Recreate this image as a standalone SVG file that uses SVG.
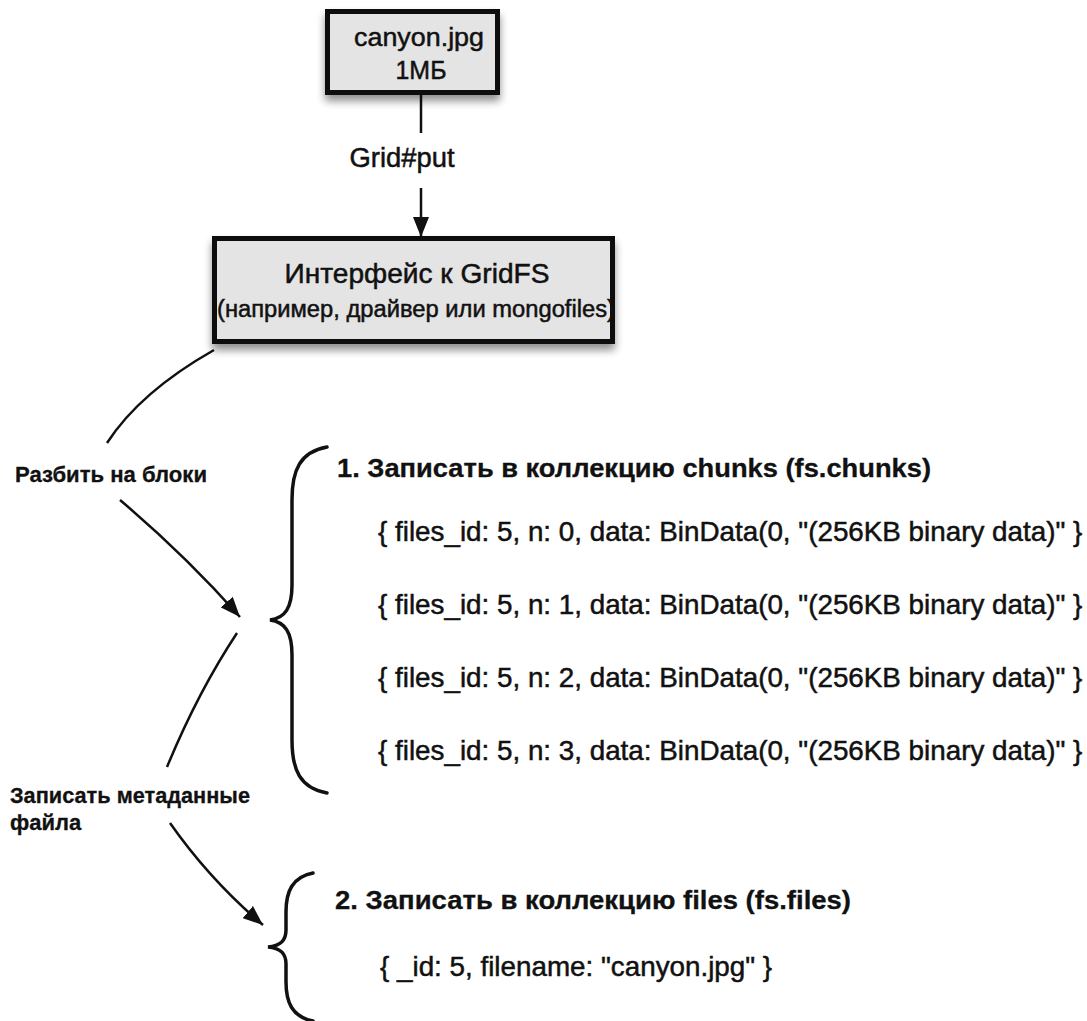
<svg xmlns="http://www.w3.org/2000/svg" width="1087" height="1021" viewBox="0 0 1087 1021">
  <style>
    text { font-family: "Liberation Sans", Arial, sans-serif; fill: #111; stroke: #111; stroke-width: 0.5; }
    .box { fill: #e4e4e4; stroke: #111; stroke-width: 5; }
    .line { fill: none; stroke: #111; stroke-width: 2.5; }
    .brace { fill: none; stroke: #111; stroke-width: 3.5; stroke-linecap: round; }
    .bold { font-weight: bold; stroke-width: 0.3; }
    .code { font-size: 27.8px; }
    .lbl { font-size: 22px; font-weight: bold; stroke-width: 0.3; }
  </style>
  <defs>
    <filter id="shadow" x="-10%" y="-20%" width="120%" height="150%">
      <feGaussianBlur in="SourceAlpha" stdDeviation="4"/>
      <feOffset dx="0" dy="6" result="b"/>
      <feComponentTransfer><feFuncA type="linear" slope="0.45"/></feComponentTransfer>
      <feMerge><feMergeNode/><feMergeNode in="SourceGraphic"/></feMerge>
    </filter>
    <marker id="arrow" viewBox="0 0 20 16" refX="20" refY="8" markerWidth="20" markerHeight="16" markerUnits="userSpaceOnUse" orient="auto">
      <path d="M0,0 L20,8 L0,16 z" fill="#111"/>
    </marker>
  </defs>

  <g id="connectors">
    <line class="line" x1="421" y1="95" x2="421" y2="133"/>
    <line class="line" x1="421" y1="188" x2="421" y2="237" marker-end="url(#arrow)"/>
    <path class="line" d="M214,350 Q140,392 107,443"/>
    <path class="line" d="M120,500 Q185,555 240,617" marker-end="url(#arrow)"/>
    <path class="line" d="M237,633 Q198,692 167,767"/>
    <path class="line" d="M170,823 Q210,880 263,925" marker-end="url(#arrow)"/>
  </g>

  <g id="node-canyon">
    <rect class="box" x="327.5" y="11.5" width="170" height="81" filter="url(#shadow)"/>
    <text x="419" y="46" font-size="26.5" text-anchor="middle" textLength="130" lengthAdjust="spacingAndGlyphs">canyon.jpg</text>
    <text x="421" y="79" font-size="26.5" text-anchor="middle" textLength="51" lengthAdjust="spacingAndGlyphs">1МБ</text>
  </g>

  <g id="label-gridput">
    <text x="402" y="167" font-size="27" text-anchor="middle" textLength="105" lengthAdjust="spacingAndGlyphs">Grid#put</text>
  </g>

  <g id="node-gridfs">
    <rect class="box" x="214.5" y="238.5" width="398" height="103" filter="url(#shadow)"/>
    <text x="417" y="283" font-size="27" text-anchor="middle" textLength="265" lengthAdjust="spacingAndGlyphs">Интерфейс к GridFS</text>
    <text x="416" y="317" font-size="23.5" text-anchor="middle" textLength="398" lengthAdjust="spacingAndGlyphs">(например, драйвер или mongofiles)</text>
  </g>

  <g id="label-split">
    <text class="lbl" x="15" y="482" textLength="192" lengthAdjust="spacingAndGlyphs">Разбить на блоки</text>
  </g>

  <g id="label-meta">
    <text class="lbl" x="10" y="803" textLength="240" lengthAdjust="spacingAndGlyphs">Записать метаданные</text>
    <text class="lbl" x="10" y="830">файла</text>
  </g>

  <g id="group-chunks">
    <path class="brace" d="M327,447 C300,452 292,470 292,500 L292,585 C292,608 285,618 270,620 C285,622 292,632 292,655 L292,740 C292,770 300,788 327,793"/>
    <text class="bold" x="337" y="477" font-size="26" textLength="594" lengthAdjust="spacingAndGlyphs">1. Записать в коллекцию chunks (fs.chunks)</text>
    <text class="code" x="378" y="541">{ files_id: 5, n: 0, data: BinData(0, "(256KB binary data)" }</text>
    <text class="code" x="378" y="614">{ files_id: 5, n: 1, data: BinData(0, "(256KB binary data)" }</text>
    <text class="code" x="378" y="687">{ files_id: 5, n: 2, data: BinData(0, "(256KB binary data)" }</text>
    <text class="code" x="378" y="760">{ files_id: 5, n: 3, data: BinData(0, "(256KB binary data)" }</text>
  </g>

  <g id="group-files">
    <path class="brace" d="M313,873 C292,877 286,892 286,912 L286,930 C286,941 280,946 268,947 C280,948 286,953 286,964 L286,982 C286,1002 292,1017 313,1021"/>
    <text class="bold" x="335" y="909" font-size="26" textLength="516" lengthAdjust="spacingAndGlyphs">2. Записать в коллекцию files (fs.files)</text>
    <text class="code" x="380" y="976">{ _id: 5, filename: "canyon.jpg" }</text>
  </g>
</svg>
